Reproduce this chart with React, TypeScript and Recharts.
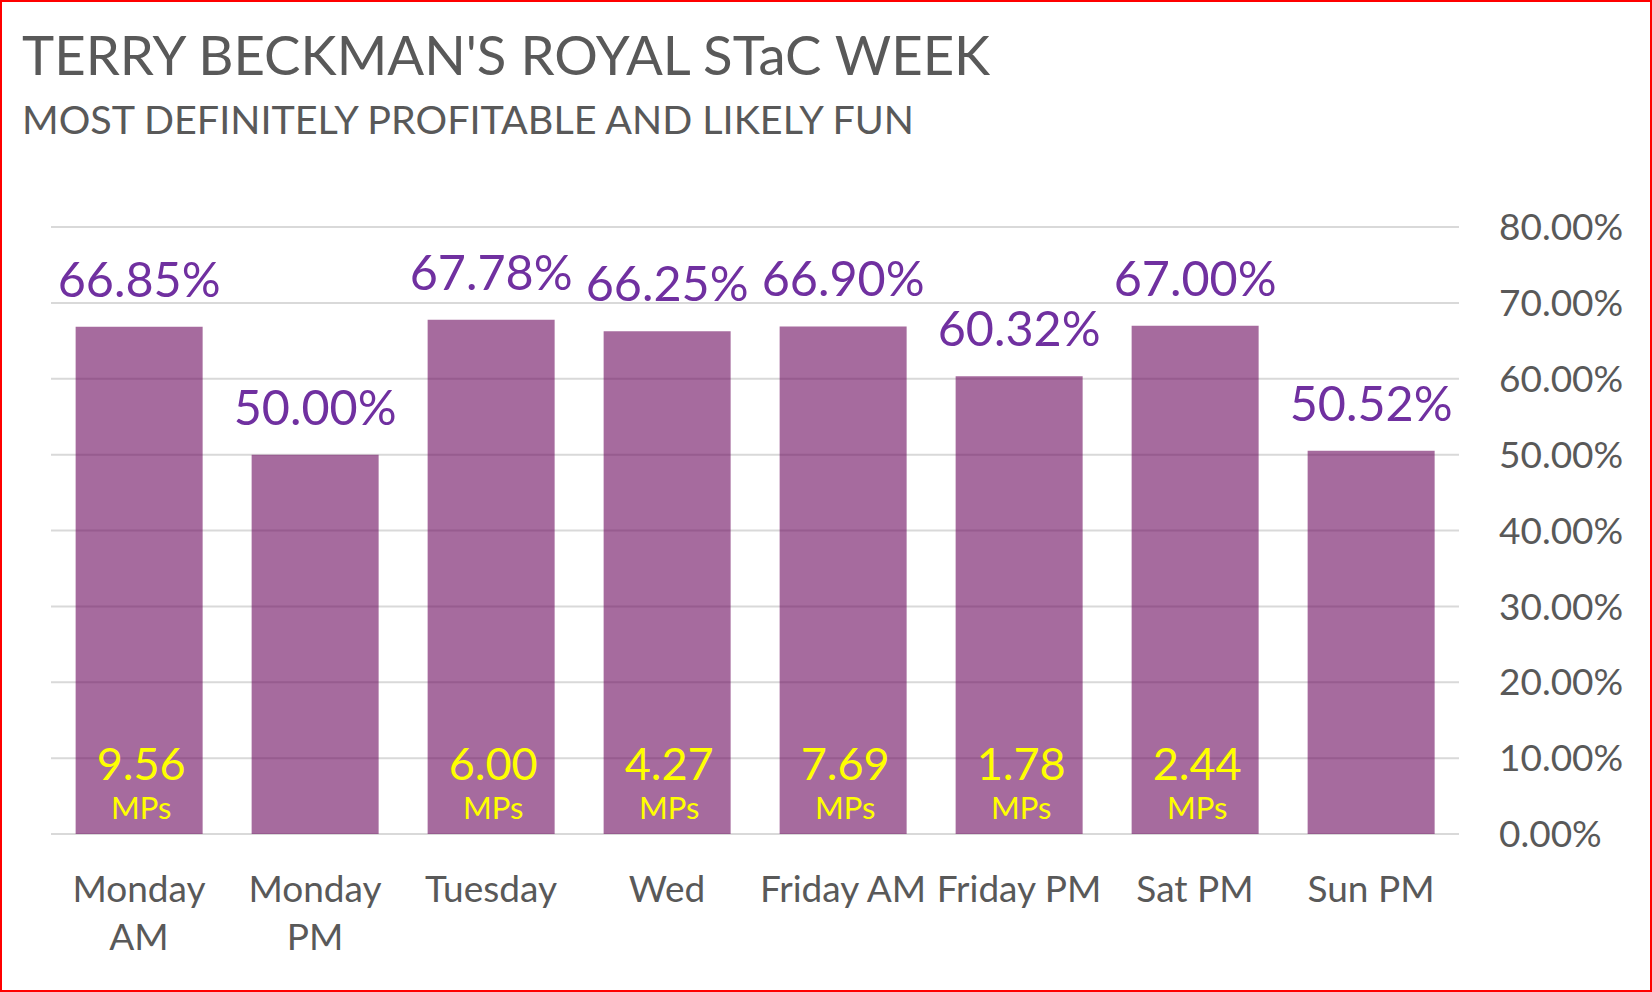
import { BarChart, Bar, XAxis, YAxis, CartesianGrid, LabelList } from 'recharts';

const categories = ['Monday AM', 'Monday PM', 'Tuesday', 'Wed', 'Friday AM', 'Friday PM', 'Sat PM', 'Sun PM'];
const tickLabels = ['Monday\nAM', 'Monday\nPM', 'Tuesday', 'Wed', 'Friday AM', 'Friday PM', 'Sat PM', 'Sun PM'];
const winRates = [66.85, 50.0, 67.78, 66.25, 66.9, 60.32, 67.0, 50.52];
const mpsValues: (number | null)[] = [9.56, null, 6.0, 4.27, 7.69, 1.78, 2.44, null];
const yTicks = [0, 10, 20, 30, 40, 50, 60, 70, 80];

const FONT = 'Lato, Carlito, Calibri, sans-serif';
const GREY = '#595959';

const data = categories.map((name, i) => ({
  name,
  tick: tickLabels[i],
  rate: winRates[i],
  mps: mpsValues[i],
}));

function XTick({ x, y, payload }: { x?: number; y?: number; payload?: { value: string; index: number } }) {
  const idx = payload?.index ?? 0;
  const lines = (tickLabels[idx] ?? String(payload?.value ?? '')).split('\n');
  return (
    <text x={x} y={(y ?? 0) + 27} textAnchor="middle" fill={GREY} fontSize={37} fontFamily={FONT}>
      {lines.map((l, i) => (
        <tspan key={i} x={x} dy={i === 0 ? 0 : 48}>{l}</tspan>
      ))}
    </text>
  );
}

function MpsLabel(props: any) {
  const { x, y, width, height, value } = props;
  if (value == null) return null;
  const cx = Number(x) + Number(width) / 2 + 2;
  const bottom = Number(y) + Number(height);
  return (
    <g>
      <text x={cx} y={bottom - 54} textAnchor="middle" fill="#ffff00" fontSize={45} fontFamily={FONT}>
        {Number(value).toFixed(2)}
      </text>
      <text x={cx} y={bottom - 15} textAnchor="middle" fill="#ffff00" fontSize={31} fontFamily={FONT}>
        MPs
      </text>
    </g>
  );
}

export default function App() {
  return (
    <div style={{ position: 'relative', width: 1652, height: 992, background: '#fff', fontFamily: FONT }}>
      <style>{'body{margin:0}'}</style>
      <BarChart
        width={1652}
        height={992}
        data={data}
        margin={{ top: 227, right: 0, bottom: 20, left: 51 }}
        barCategoryGap="14%"
      >
        <CartesianGrid vertical={false} stroke="#d9d9d9" strokeWidth={2} />
        <XAxis
          dataKey="name"
          axisLine={false}
          tickLine={false}
          tickSize={0}
          tickMargin={41}
          height={138}
          interval={0}
          tick={<XTick />}
        />
        <YAxis
          orientation="right"
          domain={[0, 80]}
          ticks={yTicks}
          width={193}
          axisLine={false}
          tickLine={false}
          tickSize={0}
          tickMargin={40}
          tick={{ fill: GREY, fontSize: 37, fontFamily: FONT }}
          tickFormatter={(v: number) => `${v.toFixed(2)}%`}
        />
        <Bar dataKey="rate" fill="#6b085d" fillOpacity={0.6} isAnimationActive={false}>
          <LabelList
            dataKey="rate"
            position="top"
            offset={30}
            fill="#7030a0"
            fontSize={48.5}
            fontFamily={FONT}
            formatter={(v: any) => `${Number(v).toFixed(2)}%`}
          />
          <LabelList dataKey="mps" content={<MpsLabel />} />
        </Bar>
      </BarChart>
      <svg width={1652} height={992} style={{ position: 'absolute', left: 0, top: 0, pointerEvents: 'none' }}>
        <text x={22} y={75} fill={GREY} fontSize={54.5} fontFamily={FONT}>TERRY BECKMAN'S ROYAL STaC WEEK</text>
        <text x={22} y={134} fill={GREY} fontSize={39.5} fontFamily={FONT}>MOST DEFINITELY PROFITABLE AND LIKELY FUN</text>
        <rect x={1} y={1} width={1650} height={990} fill="none" stroke="#ff0000" strokeWidth={2} />
      </svg>
    </div>
  );
}
